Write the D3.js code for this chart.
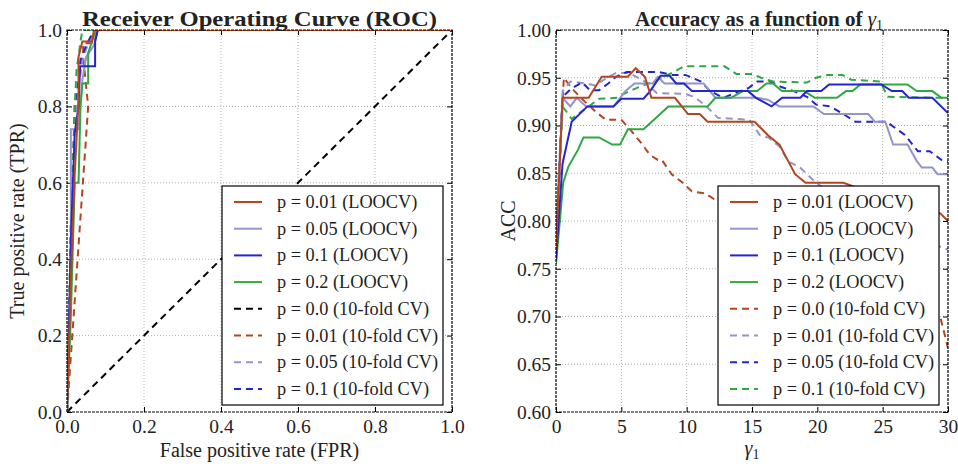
<!DOCTYPE html>
<html><head><meta charset="utf-8">
<script src="https://cdn.jsdelivr.net/npm/d3@7"></script>
<style>
body{margin:0;background:#fff;}
svg text{font-family:"Liberation Serif","DejaVu Serif",serif;fill:#222;}
</style></head>
<body><svg id="c" width="958" height="468"></svg>
<script>
// ---------- DATA ----------
const legendLabels = ["p = 0.01 (LOOCV)","p = 0.05 (LOOCV)","p = 0.1 (LOOCV)","p = 0.2 (LOOCV)"];
const rocLegendCV = ["p = 0.0 (10-fold CV)","p = 0.01 (10-fold CV)","p = 0.05 (10-fold CV)","p = 0.1 (10-fold CV)"];
const accLegendCV = ["p = 0.0 (10-fold CV)","p = 0.01 (10-fold CV)","p = 0.05 (10-fold CV)","p = 0.1 (10-fold CV)"];
const rocTicks = [0,0.2,0.4,0.6,0.8,1.0];
const accXTicks = [0,5,10,15,20,25,30];
const accYTicks = [0.60,0.65,0.70,0.75,0.80,0.85,0.90,0.95,1.00];

// ROC curves [FPR, TPR]
const roc_p001_loocv = [[0,0],[0.01,0.35],[0.02,0.62],[0.03,0.82],[0.03,0.93],[0.04,0.97],[0.065,0.97],[0.07,1],[1,1]];
const roc_p005_loocv = [[0,0],[0.01,0.4],[0.01,0.74],[0.03,0.74],[0.04,0.87],[0.05,0.93],[0.07,0.96],[0.08,1],[1,1]];
const roc_p01_loocv  = [[0,0],[0.01,0.45],[0.02,0.73],[0.03,0.8],[0.034,0.905],[0.073,0.905],[0.073,0.97],[0.08,1],[1,1]];
const roc_p02_loocv  = [[0,0],[0.01,0.25],[0.02,0.6],[0.03,0.6],[0.035,0.8],[0.04,0.86],[0.055,0.86],[0.055,0.94],[0.065,0.97],[0.075,1],[1,1]];
const roc_p00_cv     = [[0,0],[1,1]];
const roc_p001_cv    = [[0,0],[0.055,0.8],[0.042,0.93],[0.042,0.965],[0.07,0.965],[0.08,1],[1,1]];
const roc_p005_cv    = [[0,0],[0.01,0.5],[0.02,0.75],[0.03,0.85],[0.04,0.92],[0.05,0.95],[0.07,1],[1,1]];
const roc_p01_cv     = [[0,0],[0.01,0.4],[0.02,0.8],[0.03,0.87],[0.035,0.92],[0.05,0.96],[0.07,1],[1,1]];
const roc_p02_cv     = [[0,0],[0.01,0.5],[0.02,0.8],[0.025,0.9],[0.03,0.93],[0.035,0.97],[0.04,1],[1,1]];

// Accuracy vs gamma1 [gamma1, ACC]
const acc_p001_loocv = [[0,0.77],[0.5,0.929],[2.5,0.929],[3.5,0.951],[5.5,0.951],[6.1,0.96],[6.8,0.951],[7.3,0.929],[9.1,0.929],[10.1,0.912],[11,0.912],[11.6,0.904],[15.2,0.904],[16.2,0.89],[17.1,0.88],[18.3,0.849],[19.1,0.84],[22,0.84],[24,0.83],[26,0.824],[28,0.815],[29.4,0.808],[30,0.80]];
const acc_p005_loocv = [[0,0.76],[0.5,0.929],[1.1,0.92],[1.6,0.929],[2.3,0.92],[4.4,0.92],[5.3,0.936],[6.0,0.944],[7.4,0.944],[7.8,0.951],[8.3,0.944],[11.3,0.944],[12.2,0.929],[15.4,0.929],[16.2,0.927],[17.1,0.92],[19.7,0.92],[20.5,0.912],[23.9,0.912],[24.4,0.904],[25.2,0.904],[25.8,0.88],[26.9,0.88],[27.6,0.863],[28,0.856],[28.8,0.856],[29.2,0.849],[30,0.849]];
const acc_p01_loocv  = [[0,0.76],[0.5,0.86],[1.2,0.904],[2.4,0.92],[4.4,0.92],[5.0,0.928],[6.7,0.928],[7.2,0.936],[8.0,0.952],[8.7,0.952],[9.2,0.944],[9.8,0.944],[10.4,0.936],[14.7,0.936],[15.3,0.929],[16.5,0.92],[17.3,0.929],[18.7,0.929],[19.2,0.936],[20.3,0.936],[20.9,0.943],[24.9,0.943],[25.7,0.936],[26.5,0.936],[27,0.929],[28.8,0.929],[30,0.913]];
const acc_p02_loocv  = [[0,0.755],[0.55,0.84],[0.95,0.857],[1.7,0.875],[2.1,0.8875],[3.3,0.8875],[4.3,0.88],[4.9,0.88],[5.5,0.896],[6.7,0.896],[8.6,0.92],[11.6,0.92],[12.2,0.929],[13.4,0.929],[14.3,0.936],[15.4,0.936],[16.1,0.944],[16.6,0.944],[17.3,0.936],[19.0,0.936],[19.8,0.929],[21.5,0.929],[22.2,0.936],[22.7,0.936],[23.3,0.943],[26.9,0.943],[27.6,0.936],[28.8,0.936],[29.5,0.929],[30,0.929]];
const acc_p00_cv     = [[0,0.79],[0.6,0.95],[1.2,0.939],[2.2,0.925],[3.0,0.915],[3.8,0.906],[5.0,0.906],[5.6,0.897],[6.5,0.882],[7.2,0.869],[7.8,0.864],[8.1,0.864],[8.85,0.849],[9.7,0.84],[10.4,0.831],[11.4,0.829],[12.2,0.822],[14,0.81],[16,0.795],[18,0.78],[20,0.765],[22,0.75],[24,0.738],[26,0.725],[28,0.712],[29.4,0.70],[30,0.667]];
const acc_p001_cv    = [[0,0.78],[0.5,0.936],[1.1,0.946],[2.3,0.944],[3,0.942],[4,0.951],[4.6,0.955],[5.6,0.955],[6.8,0.946],[7.7,0.934],[9.9,0.933],[10.6,0.93],[11.5,0.92],[12.4,0.908],[14.8,0.906],[15.6,0.89],[16.3,0.887],[17.1,0.878],[17.8,0.862],[18.6,0.857],[19.9,0.84],[22,0.82],[25,0.80],[28,0.78],[30,0.77]];
const acc_p005_cv    = [[0,0.77],[0.5,0.93],[1.2,0.939],[2.0,0.945],[2.6,0.937],[3.3,0.937],[4.0,0.944],[4.6,0.951],[5.4,0.956],[7.9,0.956],[8.9,0.953],[9.9,0.953],[11.1,0.946],[11.8,0.936],[12.8,0.929],[14.1,0.936],[14.7,0.939],[15.4,0.946],[16.4,0.946],[17.3,0.94],[18.2,0.936],[19.2,0.93],[19.9,0.922],[21.0,0.92],[22.1,0.911],[22.9,0.904],[25.3,0.904],[26.7,0.89],[27.7,0.873],[28.6,0.873],[29.5,0.864],[30,0.862]];
const acc_p01_cv     = [[0,0.77],[0.5,0.92],[1.2,0.907],[2.0,0.915],[3.3,0.928],[4.6,0.929],[5.6,0.936],[6.5,0.941],[7.8,0.948],[9.0,0.956],[9.8,0.962],[12.9,0.962],[13.8,0.954],[15.0,0.954],[15.7,0.95],[16.6,0.946],[19.2,0.945],[19.9,0.95],[20.8,0.953],[21.9,0.953],[22.6,0.948],[24.8,0.946],[25.4,0.93],[29.4,0.929],[30,0.929]];

// ---------- STYLE ----------
const C = {brown:"#b4451f", lpurple:"#9494cc", blue:"#2525cf", green:"#2fa843", black:"#000"};
const DASH = "7,5";

const svg = d3.select("#c");
svg.append("rect").attr("width",958).attr("height",468).attr("fill","#fff");
const defs = svg.append("defs");

function panel(opts){
  const {id,x0,x1,y0,y1,xDomain,yDomain,xTicks,yTicks,xFmt,yFmt} = opts;
  const xs = d3.scaleLinear().domain(xDomain).range([x0,x1]);
  const ys = d3.scaleLinear().domain(yDomain).range([y1,y0]);
  const g = svg.append("g");
  g.append("g").selectAll("line").data(xTicks.slice(1,-1)).join("line")
    .attr("x1",d=>xs(d)).attr("x2",d=>xs(d)).attr("y1",y0).attr("y2",y1)
    .attr("stroke","#b0b0b0").attr("stroke-width",1).attr("stroke-dasharray","1,2");
  g.append("g").selectAll("line").data(yTicks.slice(1,-1)).join("line")
    .attr("y1",d=>ys(d)).attr("y2",d=>ys(d)).attr("x1",x0).attr("x2",x1)
    .attr("stroke","#b0b0b0").attr("stroke-width",1).attr("stroke-dasharray","1,2");
  const ax = (gen, tr) => {
    const a = g.append("g").attr("transform",tr).call(gen);
    a.select(".domain").remove();
    a.selectAll("line").attr("stroke","#000");
    a.selectAll("text").style("font-size","19.5px").attr("fill","#222");
    return a;
  };
  ax(d3.axisBottom(xs).tickValues(xTicks).tickFormat(xFmt).tickSize(-5).tickPadding(7),`translate(0,${y1})`)
    .selectAll("text").attr("dy","0.71em");
  ax(d3.axisTop(xs).tickValues(xTicks).tickFormat("").tickSize(-5),`translate(0,${y0})`);
  ax(d3.axisLeft(ys).tickValues(yTicks).tickFormat(yFmt).tickSize(-5).tickPadding(5),`translate(${x0},0)`);
  ax(d3.axisRight(ys).tickValues(yTicks).tickFormat("").tickSize(-5),`translate(${x1},0)`);
  defs.append("clipPath").attr("id",id).append("rect")
    .attr("x",x0).attr("y",y0).attr("width",x1-x0).attr("height",y1-y0);
  const plot = svg.append("g").attr("clip-path",`url(#${id})`);
  return {xs,ys,g,plot};
}

function drawLines(P, series){
  const line = d3.line().x(d=>P.xs(d[0])).y(d=>P.ys(d[1]));
  series.forEach(s=>{
    P.plot.append("path").datum(s.data).attr("d",line)
      .attr("fill","none").attr("stroke",s.color).attr("stroke-width",2)
      .attr("stroke-linejoin","miter")
      .attr("stroke-dasharray",s.dash?DASH:null);
  });
}

function frame(x0,x1,y0,y1){
  svg.append("rect").attr("x",x0).attr("y",y0).attr("width",x1-x0).attr("height",y1-y0)
    .attr("fill","none").attr("stroke","#000").attr("stroke-width",1.2).attr("stroke-dasharray","3,1");
}

function legend(lx, ly, w, h, items){
  const g = svg.append("g");
  g.append("rect").attr("x",lx).attr("y",ly).attr("width",w).attr("height",h)
    .attr("fill","#fff").attr("stroke","#000").attr("stroke-width",1.2);
  items.forEach((it,i)=>{
    const y = ly + 16 + i*26.7;
    g.append("line").attr("x1",lx+12).attr("x2",lx+40).attr("y1",y).attr("y2",y)
      .attr("stroke",it.color).attr("stroke-width",2).attr("stroke-dasharray",it.dash?DASH:null);
    g.append("text").attr("x",lx+55).attr("y",y).attr("dy","0.33em")
      .style("font-size","18.3px").text(it.label);
  });
}

// ---------- LEFT: ROC ----------
const L = panel({id:"clipL",x0:67,x1:452,y0:30,y1:412,xDomain:[0,1],yDomain:[0,1],
  xTicks:rocTicks,yTicks:rocTicks,xFmt:d3.format(".1f"),yFmt:d3.format(".1f")});
drawLines(L, [
  {data:roc_p00_cv,color:C.black,dash:true},
  {data:roc_p001_cv,color:C.brown,dash:true},
  {data:roc_p005_cv,color:C.lpurple,dash:true},
  {data:roc_p01_cv,color:C.blue,dash:true},
  {data:roc_p02_cv,color:C.green,dash:true},
  {data:roc_p005_loocv,color:C.lpurple},
  {data:roc_p02_loocv,color:C.green},
  {data:roc_p01_loocv,color:C.blue},
  {data:roc_p001_loocv,color:C.brown}
]);
frame(67,452,30,412);
legend(222,186,221,219,[
  {label:legendLabels[0],color:C.brown},
  {label:legendLabels[1],color:C.lpurple},
  {label:legendLabels[2],color:C.blue},
  {label:legendLabels[3],color:C.green},
  {label:rocLegendCV[0],color:C.black,dash:true},
  {label:rocLegendCV[1],color:C.brown,dash:true},
  {label:rocLegendCV[2],color:C.lpurple,dash:true},
  {label:rocLegendCV[3],color:C.blue,dash:true}
]);
svg.append("text").attr("x",259.5).attr("y",26).attr("text-anchor","middle")
  .style("font-size","21px").style("font-weight","bold")
  .attr("textLength",355).attr("lengthAdjust","spacingAndGlyphs")
  .text("Receiver Operating Curve (ROC)");
svg.append("text").attr("x",259.5).attr("y",457).attr("text-anchor","middle")
  .style("font-size","20px").text("False positive rate (FPR)");
svg.append("text").attr("transform","translate(24,221) rotate(-90)").attr("text-anchor","middle")
  .style("font-size","20px").text("True positive rate (TPR)");

// ---------- RIGHT: ACC ----------
const R = panel({id:"clipR",x0:556,x1:948,y0:30,y1:412,xDomain:[0,30],yDomain:[0.6,1.0],
  xTicks:accXTicks,yTicks:accYTicks,xFmt:d3.format("d"),yFmt:d3.format(".2f")});
drawLines(R, [
  {data:acc_p00_cv,color:C.brown,dash:true},
  {data:acc_p001_cv,color:C.lpurple,dash:true},
  {data:acc_p005_cv,color:C.blue,dash:true},
  {data:acc_p01_cv,color:C.green,dash:true},
  {data:acc_p005_loocv,color:C.lpurple},
  {data:acc_p02_loocv,color:C.green},
  {data:acc_p01_loocv,color:C.blue},
  {data:acc_p001_loocv,color:C.brown}
]);
frame(556,948,30,412);
legend(718,186,221,219,[
  {label:legendLabels[0],color:C.brown},
  {label:legendLabels[1],color:C.lpurple},
  {label:legendLabels[2],color:C.blue},
  {label:legendLabels[3],color:C.green},
  {label:accLegendCV[0],color:C.brown,dash:true},
  {label:accLegendCV[1],color:C.lpurple,dash:true},
  {label:accLegendCV[2],color:C.blue,dash:true},
  {label:accLegendCV[3],color:C.green,dash:true}
]);
const t = svg.append("text").attr("x",759).attr("y",26).attr("text-anchor","middle")
  .style("font-size","21px");
t.append("tspan").style("font-weight","bold").text("Accuracy as a function of ");
t.append("tspan").style("font-style","italic").text("γ");
t.append("tspan").attr("dy",4).style("font-size","14px").text("1");
const xl = svg.append("text").attr("x",752).attr("y",455).attr("text-anchor","middle").style("font-size","20px");
xl.append("tspan").style("font-style","italic").text("γ");
xl.append("tspan").attr("dy",4).style("font-size","14px").text("1");
svg.append("text").attr("transform","translate(515,221) rotate(-90)").attr("text-anchor","middle")
  .style("font-size","20px").text("ACC");
</script></body></html>
